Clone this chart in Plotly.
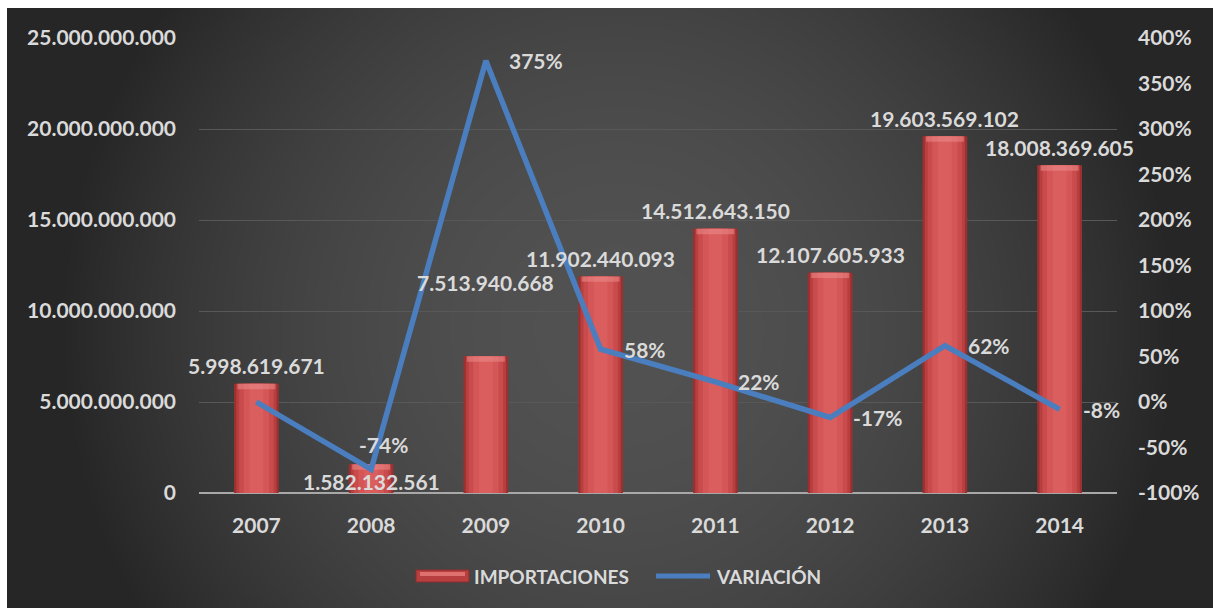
import base64
import struct
import zlib

import numpy as np
import plotly.graph_objects as go

# ---- data ----
years = ["2007", "2008", "2009", "2010", "2011", "2012", "2013", "2014"]
importaciones = [5998619671, 1582132561, 7513940668, 11902440093,
                 14512643150, 12107605933, 19603569102, 18008369605]
variacion = [0, -74, 375, 58, 22, -17, 62, -8]
variacion_labels = ["", "-74%", "375%", "58%", "22%", "-17%", "62%", "-8%"]
pct_ticks = [-100, -50, 0, 50, 100, 150, 200, 250, 300, 350, 400]

# ---- figure geometry (pixels) ----
W, H = 1213, 608
PL, PR, PT, PB = 199, 96, 38, 115
plot_w = W - PL - PR
plot_h = H - PT - PB

FONT = "Lato"
TXT = "#dadada"


def px(x):
    return (x - PL) / plot_w


def py(y):
    return (H - PB - y) / plot_h


def gradient_png(w, h, scale):
    """Dark radial gradient used as the chart background."""
    ys, xs = np.mgrid[0:h, 0:w].astype(float)
    cx, cy = 610 / scale, 320 / scale
    d = np.hypot(xs - cx, ys - cy) * scale
    t = np.clip(1 - (d / 560.0) ** 2, 0, 1)
    v = (0x26 + (0x52 - 0x26) * t).astype(np.uint8)
    rgb = np.stack([v, v, v], axis=-1)
    raw = b"".join(b"\x00" + rgb[r].tobytes() for r in range(h))

    def chunk(tag, data):
        c = struct.pack(">I", len(data)) + tag + data
        return c + struct.pack(">I", zlib.crc32(tag + data) & 0xFFFFFFFF)

    png = b"\x89PNG\r\n\x1a\n"
    png += chunk(b"IHDR", struct.pack(">IIBBBBB", w, h, 8, 2, 0, 0, 0))
    png += chunk(b"IDAT", zlib.compress(raw, 9))
    png += chunk(b"IEND", b"")
    return "data:image/png;base64," + base64.b64encode(png).decode()


bg_left, bg_top = 7, 8
bg_w, bg_h = W - bg_left, H - bg_top
bg_src = gradient_png(bg_w // 2, bg_h // 2, 2.0)

fig = go.Figure()

# layered bars give a rounded, cylinder-like shading
layers = [(0.39, "#9c3030"), (0.35, "#b83f3f"), (0.30, "#c94b4b"),
          (0.22, "#d45656"), (0.12, "#da5e5e")]
for width, color in layers:
    fig.add_trace(go.Bar(
        x=years, y=importaciones, width=width, name="IMPORTACIONES",
        showlegend=False, marker=dict(color=color, line=dict(width=0)),
    ))

# soft bevel along the top of each bar
bevel = 0.3e9
fig.add_trace(go.Bar(
    x=years, y=[bevel] * len(years), base=[v - bevel for v in importaciones],
    width=0.33, showlegend=False, hoverinfo="skip",
    marker=dict(color="rgba(236,140,140,0.55)", line=dict(width=0)),
))

fig.add_trace(go.Scatter(
    x=years, y=variacion, yaxis="y2", mode="lines", name="VARIACIÓN",
    showlegend=False, line=dict(color="#4a7ebf", width=5.5),
))

label_font = dict(family=FONT, size=21, color=TXT, weight="bold")

# value labels over the bars
bar_shift = {"2008": -17, "2009": 74}
for i, (yr, val) in enumerate(zip(years, importaciones)):
    txt = f"{val:,}".replace(",", ".")
    fig.add_annotation(
        x=i, y=val, xref="x", yref="y", text=txt, showarrow=False,
        yshift=bar_shift.get(yr, 18), xanchor="center", yanchor="middle",
        font=label_font,
    )

# percentage labels next to the line points
for i, (yr, val, lab) in enumerate(zip(years, variacion, variacion_labels)):
    if not lab:
        continue
    if yr == "2008":
        xa, xs, ysft = "center", 12, 25
    else:
        xa, xs, ysft = "left", 21, 0
    fig.add_annotation(
        x=i, y=val, xref="x", yref="y2", text=lab, showarrow=False,
        xanchor=xa, xshift=xs, yshift=ysft, yanchor="middle", font=label_font,
    )

# legend drawn by hand: wide bar swatch and line swatch
legend_font = dict(family=FONT, size=19, color=TXT, weight="bold")
fig.add_shape(type="rect", xref="paper", yref="paper",
              x0=px(416), x1=px(469), y0=py(582), y1=py(570),
              fillcolor="#b83f3f", line=dict(color="#8e2c2c", width=1))
fig.add_shape(type="rect", xref="paper", yref="paper",
              x0=px(420), x1=px(465), y0=py(576), y1=py(572),
              fillcolor="#de7070", line=dict(width=0))
fig.add_annotation(x=px(472), y=py(576), xref="paper", yref="paper",
                   text="IMPORTACIONES", showarrow=False, xanchor="left",
                   yanchor="middle", font=legend_font)
fig.add_shape(type="line", xref="paper", yref="paper",
              x0=px(656), x1=px(710), y0=py(576), y1=py(576),
              line=dict(color="#4a7ebf", width=5))
fig.add_annotation(x=px(714), y=py(576), xref="paper", yref="paper",
                   text="VARIACIÓN", showarrow=False, xanchor="left",
                   yanchor="middle", font=legend_font)

fig.add_layout_image(dict(
    source=bg_src, xref="paper", yref="paper",
    x=px(bg_left), y=py(bg_top), sizex=bg_w / plot_w, sizey=bg_h / plot_h,
    xanchor="left", yanchor="top", sizing="stretch", layer="below",
))

fig.update_layout(
    width=W, height=H,
    margin=dict(l=PL, r=PR, t=PT, b=PB),
    paper_bgcolor="white", plot_bgcolor="rgba(0,0,0,0)",
    barmode="overlay", separators=",.",
    font=dict(family=FONT, size=21, color=TXT),
    showlegend=False,
    xaxis=dict(
        type="category", range=[-0.5, len(years) - 0.5],
        showgrid=False, ticks="", showline=False, zeroline=False,
        tickfont=label_font, ticklabelstandoff=18,
    ),
    yaxis=dict(
        range=[0, 25e9], tickvals=[0, 5e9, 10e9, 15e9, 20e9, 25e9],
        tickformat=",d", showgrid=True, gridcolor="#585858", gridwidth=1,
        zeroline=True, zerolinecolor="#a8a8a8", zerolinewidth=2,
        ticks="", showline=False, ticklabelstandoff=22, tickfont=label_font,
    ),
    yaxis2=dict(
        range=[-100, 400], tickvals=pct_ticks,
        ticktext=[f"{v}%" for v in pct_ticks],
        overlaying="y", side="right", showgrid=False, zeroline=False,
        ticks="", showline=False, ticklabelstandoff=20, tickfont=label_font,
    ),
)

fig.write_html("out.html")
